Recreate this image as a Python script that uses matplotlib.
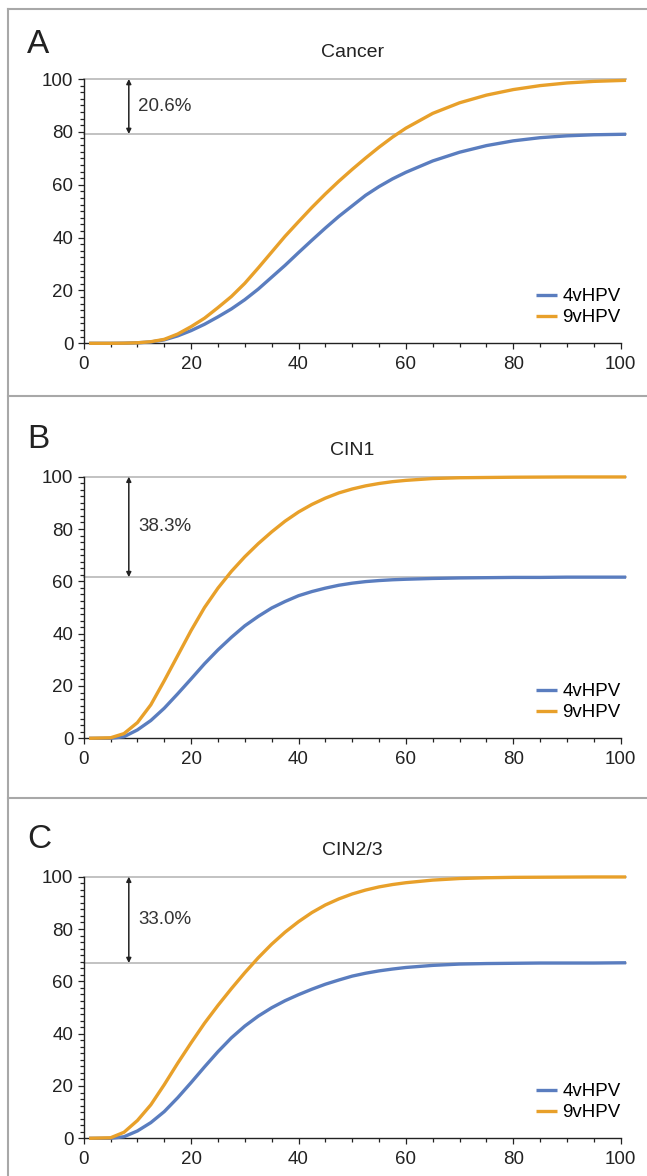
import matplotlib
matplotlib.use('Agg')
import matplotlib.pyplot as plt
from matplotlib.lines import Line2D
from matplotlib.ticker import MultipleLocator

plt.rcParams['font.family'] = ['Liberation Sans', 'DejaVu Sans']

# data
x = [1, 5, 7.5, 10, 12.5, 15, 17.5, 20, 22.5, 25, 27.5, 30, 32.5, 35, 37.5, 40, 42.5, 45, 47.5,
     50, 52.5, 55, 57.5, 60, 65, 70, 75, 80, 85, 90, 95, 101]

cancer_4v = [0, 0, 0.05, 0.2, 0.5, 1.3, 2.8, 4.8, 7.2, 10, 13, 16.5, 20.5, 25, 29.5, 34.3, 39, 43.6, 48,
             52, 56, 59.3, 62.2, 64.7, 69, 72.3, 74.8, 76.6, 77.8, 78.5, 78.9, 79.1]
cancer_9v = [0, 0, 0.05, 0.2, 0.6, 1.5, 3.5, 6.3, 9.5, 13.5, 17.7, 22.7, 28.5, 34.5, 40.5, 46, 51.4, 56.5, 61.3,
             65.8, 70.1, 74.2, 78, 81.4, 87, 91, 93.9, 96, 97.5, 98.5, 99.1, 99.5]

cin1_4v = [0, 0, 0.6, 3.2, 6.8, 11.5, 17, 22.7, 28.5, 33.8, 38.6, 43, 46.6, 49.8, 52.3, 54.5, 56.1, 57.4, 58.5,
           59.3, 59.9, 60.3, 60.6, 60.8, 61.1, 61.3, 61.4, 61.5, 61.5, 61.6, 61.6, 61.6]
cin1_9v = [0, 0.2, 1.8, 6, 12.8, 22, 31.6, 41.2, 50, 57.4, 63.8, 69.4, 74.4, 78.9, 83, 86.5, 89.4, 91.8, 93.8,
           95.3, 96.5, 97.4, 98.1, 98.6, 99.3, 99.6, 99.7, 99.8, 99.85, 99.9, 99.9, 99.9]

cin23_4v = [0, 0, 0.6, 2.8, 6, 10.2, 15.5, 21.3, 27.3, 33.1, 38.4, 42.9, 46.7, 49.9, 52.6, 54.9, 57, 58.9, 60.5,
            62, 63.1, 64, 64.7, 65.3, 66.1, 66.6, 66.8, 66.9, 67, 67, 67, 67.1]
cin23_9v = [0, 0.2, 2.3, 6.8, 12.8, 20.5, 28.7, 36.5, 44, 50.8, 57.2, 63.3, 69, 74.2, 78.8, 82.8, 86.3, 89.2, 91.5,
            93.4, 94.9, 96.1, 97, 97.7, 98.7, 99.3, 99.6, 99.75, 99.8, 99.85, 99.9, 99.9]

letters = ['A', 'B', 'C']
titles = ['Cancer', 'CIN1', 'CIN2/3']
gaps = ['20.6%', '38.3%', '33.0%']
lower_levels = [79.2, 61.6, 67.0]
series_4v = [cancer_4v, cin1_4v, cin23_4v]
series_9v = [cancer_9v, cin1_9v, cin23_9v]

blue = '#5a7dbf'
orange = '#e8a02a'
W, H = 647, 1176

fig = plt.figure(figsize=(W / 100, H / 100), dpi=100)

# panel frames
border = '#a8a8a8'
fig.add_artist(Line2D([8 / W, 8 / W], [0, 1 - 9 / H], color=border, lw=1.5))
for yb in [9, 396.5, 798]:
    fig.add_artist(Line2D([8 / W, 1], [1 - yb / H, 1 - yb / H], color=border, lw=1.5))

ax_top = [79, 476.7, 876.7]      # pixel row of y=100
ax_bottom = [343.3, 738.3, 1138.3]  # pixel row of y=0
letter_base = [52.7, 448, 848]

for i in range(3):
    left = 83.7 / W
    width = (620.7 - 83.7) / W
    bottom = 1 - ax_bottom[i] / H
    height = (ax_bottom[i] - ax_top[i]) / H
    ax = fig.add_axes([left, bottom, width, height])

    ax.axhline(100, xmin=0, xmax=1.01, color='#bdbdbd', lw=1.3, clip_on=False, zorder=1)
    ax.axhline(lower_levels[i], xmin=0, xmax=1.01, color='#bdbdbd', lw=1.3, clip_on=False, zorder=1)

    ax.plot(x, series_4v[i], color=blue, lw=2.4, label='4vHPV', clip_on=False, zorder=3,
            solid_joinstyle='round', solid_capstyle='butt')
    ax.plot(x, series_9v[i], color=orange, lw=2.4, label='9vHPV', clip_on=False, zorder=3,
            solid_joinstyle='round', solid_capstyle='butt')

    ax.annotate('', xy=(8.4, 100), xytext=(8.4, lower_levels[i]),
                arrowprops=dict(arrowstyle='<|-|>', color='#222222', lw=1.1,
                                mutation_scale=7, shrinkA=0, shrinkB=0))
    ax.text(10.2, (100 + lower_levels[i]) / 2, gaps[i], fontsize=13.5, va='center', ha='left',
            color='#333333')

    ax.text(0.5, 1.083, titles[i], transform=ax.transAxes, ha='center', va='baseline',
            fontsize=14, color='#222222')
    fig.text(27 / W, 1 - letter_base[i] / H, letters[i], fontsize=24, va='baseline', ha='left',
             color='#222222')

    ax.set_xlim(0, 100)
    ax.set_ylim(0, 100)
    ax.xaxis.set_major_locator(MultipleLocator(20))
    ax.xaxis.set_minor_locator(MultipleLocator(5))
    ax.yaxis.set_major_locator(MultipleLocator(20))
    ax.yaxis.set_minor_locator(MultipleLocator(2.5))
    ax.tick_params(which='major', length=4.5, width=0.9, labelsize=13.5, colors='#222222')
    ax.tick_params(which='minor', length=3, width=0.9, colors='#222222')
    ax.tick_params(axis='x', which='major', pad=5)
    ax.tick_params(axis='y', which='major', pad=3)
    for s in ['top', 'right']:
        ax.spines[s].set_visible(False)
    for s in ['left', 'bottom']:
        ax.spines[s].set_linewidth(1.0)
        ax.spines[s].set_color('#222222')
    ax.patch.set_alpha(0)

    ax.legend(loc='lower right', bbox_to_anchor=(1.0, 0.065), frameon=False, fontsize=13.5,
              handlelength=1.1, handletextpad=0.3, labelspacing=0.2, borderpad=0,
              borderaxespad=0)

fig.savefig('out.png', dpi=100)
